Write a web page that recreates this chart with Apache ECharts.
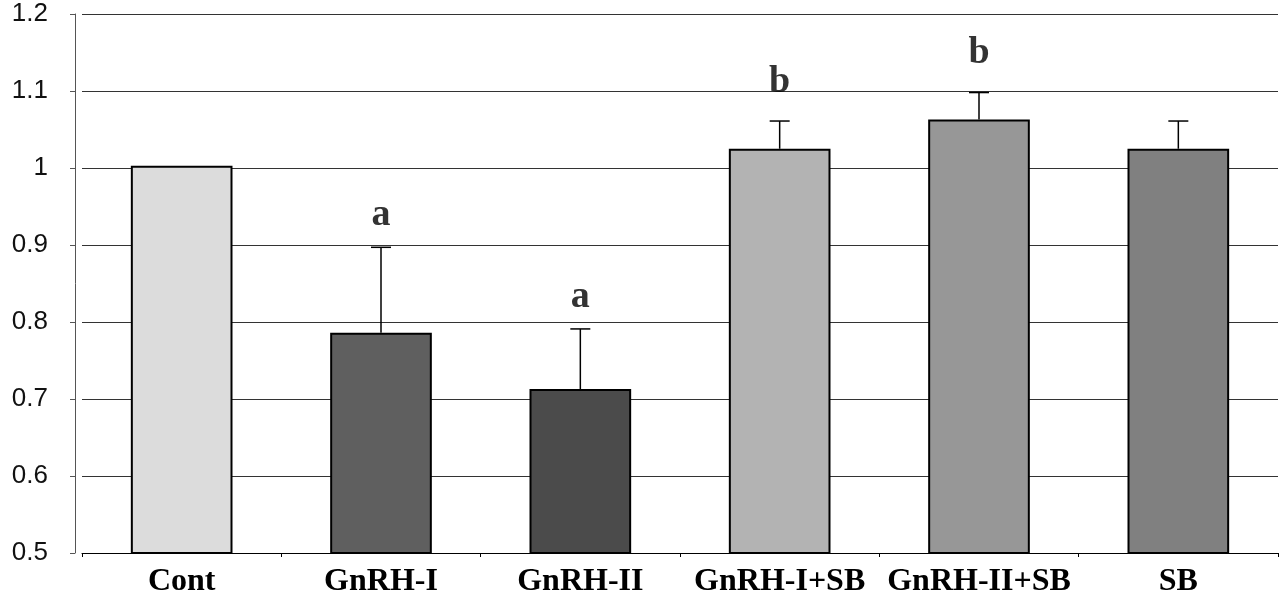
<!DOCTYPE html>
<html>
<head>
<meta charset="utf-8">
<script src="https://cdn.jsdelivr.net/npm/echarts@6/dist/echarts.min.js"></script>
<style>html,body{margin:0;padding:0;background:#fff}#c{width:1288px;height:600px}</style>
</head>
<body>
<div id="c"></div>
<script>
const categories = ['Cont', 'GnRH-I', 'GnRH-II', 'GnRH-I+SB', 'GnRH-II+SB', 'SB'];
const means = [1.003, 0.786, 0.713, 1.025, 1.063, 1.025];
const sem = [0, 0.111, 0.078, 0.036, 0.035, 0.036];
const letters = ['', 'a', 'a', 'b', 'b', ''];
const barColors = ['#dcdcdc', '#5f5f5f', '#4b4b4b', '#b3b3b3', '#979797', '#808080'];
const yTicks = [0.5, 0.6, 0.7, 0.8, 0.9, 1.0, 1.1, 1.2];

const chart = echarts.init(document.getElementById('c'));
const errData = categories.map((c, i) => [i, means[i], means[i] + sem[i]]);
const letterData = categories.map((c, i) => ({
  value: [i, means[i] + sem[i]],
  label: { formatter: letters[i], distance: letters[i] === 'b' ? 20 : 13 }
}));

chart.setOption({
  animation: false,
  grid: { left: 82, right: 10, top: 14, bottom: 47 },
  xAxis: {
    type: 'category',
    data: categories,
    axisLine: { lineStyle: { color: '#000', width: 1 } },
    axisTick: { show: true, length: 4, lineStyle: { color: '#000' } },
    axisLabel: { fontFamily: 'Liberation Serif', fontWeight: 'bold', fontSize: 32, color: '#000', margin: 13, interval: 0 }
  },
  yAxis: {
    type: 'value',
    min: yTicks[0], max: yTicks[yTicks.length - 1], interval: 0.1,
    offset: 7,
    axisLine: { show: true, lineStyle: { color: '#555', width: 1 } },
    axisTick: { show: true, length: 5, lineStyle: { color: '#555' } },
    axisLabel: { fontFamily: 'Liberation Sans', fontSize: 26, color: '#111', margin: 27,
      formatter: v => String(+v.toFixed(1)) },
    splitLine: { show: true, lineStyle: { color: '#333', width: 1 } }
  },
  series: [
    {
      type: 'bar',
      data: means.map((v, i) => ({ value: v, itemStyle: { color: barColors[i] } })),
      barWidth: '51%',
      itemStyle: { borderColor: '#000', borderWidth: 2 },
      z: 2
    },
    {
      type: 'custom',
      data: errData,
      z: 3,
      renderItem: function (params, api) {
        const i = api.value(0);
        if (api.value(2) <= api.value(1)) return null;
        const p0 = api.coord([i, api.value(1)]);
        const p1 = api.coord([i, api.value(2)]);
        const cap = 10;
        const style = { stroke: '#000', lineWidth: 1.5 };
        return {
          type: 'group',
          children: [
            { type: 'line', shape: { x1: p0[0], y1: p0[1], x2: p1[0], y2: p1[1] }, style: style },
            { type: 'line', shape: { x1: p1[0] - cap, y1: p1[1], x2: p1[0] + cap, y2: p1[1] }, style: style }
          ]
        };
      }
    },
    {
      type: 'scatter',
      data: letterData,
      symbolSize: 0,
      z: 4,
      label: {
        show: true,
        position: 'top',
        fontFamily: 'Liberation Serif',
        fontWeight: 'bold',
        fontSize: 38,
        color: '#000'
      }
    }
  ]
});
</script>
</body>
</html>
